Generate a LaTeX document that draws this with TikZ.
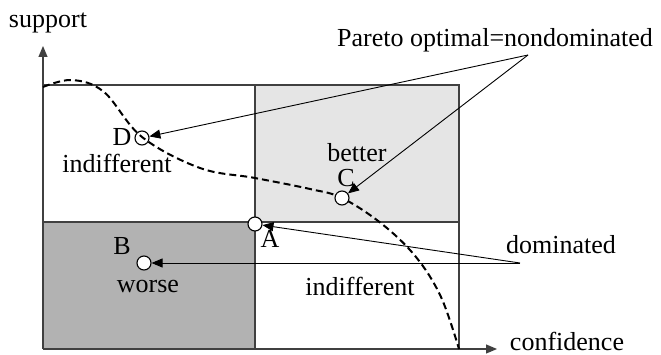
\documentclass[tikz,border=0pt]{standalone}
\usepackage{fontspec}
\setmainfont{Liberation Serif}
\usetikzlibrary{arrows.meta}
\begin{document}
\begin{tikzpicture}[x=1pt,y=-1pt,
  lbl/.style={font=\fontsize{26}{30}\selectfont, inner sep=0pt, anchor=base},
  pt/.style={circle, draw=black, line width=1.1pt, fill=white, minimum size=14pt, inner sep=0pt},
  ptopen/.style={circle, draw=black, line width=1.1pt, minimum size=14pt, inner sep=0pt},
  frame/.style={draw=black!75, line width=1.2pt},
  ptr/.style={draw=black, line width=0.9pt, -{Triangle[length=11pt,width=9pt]}},
  axis/.style={draw=black!75, line width=1.2pt, -{Triangle[length=11pt,width=9pt]}}]
\useasboundingbox (0,0) rectangle (661,355);
% regions
\fill[black!10] (255,85) rectangle (459,222);
\fill[black!30] (43,222) rectangle (255,349);
\draw[frame] (43,85) -- (459,85) -- (459,349);
\draw[frame] (43,222) -- (459,222);
\draw[frame] (255,85) -- (255,349);
% axes
\coordinate (O) at (43,349);
\coordinate (Ytip) at (43,46);
\coordinate (Xtip) at (497,349);
\draw[axis] (O) -- (Ytip);
\draw[axis] (O) -- (Xtip);
% frontier
\draw[line width=2pt, dash pattern=on 7pt off 4pt]
  plot[smooth, tension=0.6] coordinates {(43,87) (72,80) (104,92) (142,137) (200,168) (255,178) (310,189) (342,198) (382,224) (416,257) (441,297) (459,349)};
% points
\node[ptopen] (D) at (142,138) {};
\node[pt] (C) at (342,198) {};
\node[pt] (A) at (255,224) {};
\node[pt] (B) at (144,263) {};
% labels
\node[lbl] (support) at (48,28) {support};
\node[lbl] (pareto) at (495,47) {Pareto optimal=nondominated};
\node[lbl] (dl) at (122,146) {D};
\node[lbl] (ind1) at (117,173) {indifferent};
\node[lbl] (better) at (357,162) {better};
\node[lbl] (cl) at (346,187) {C};
\node[lbl] (al) at (270,248) {A};
\node[lbl] (bl) at (122,255) {B};
\node[lbl] (worse) at (148,293) {worse};
\node[lbl] (ind2) at (360,295) {indifferent};
\node[lbl] (dom) at (561,254) {dominated};
\node[lbl] (conf) at (567,350) {confidence};
% pointers
\coordinate (P) at (528,55);
\coordinate (Q) at (520,263);
\draw[ptr] (P) -- (D);
\draw[ptr] (P) -- (C);
\draw[ptr] (Q) -- (A);
\draw[ptr] (Q) -- (B);
\end{tikzpicture}
\end{document}
